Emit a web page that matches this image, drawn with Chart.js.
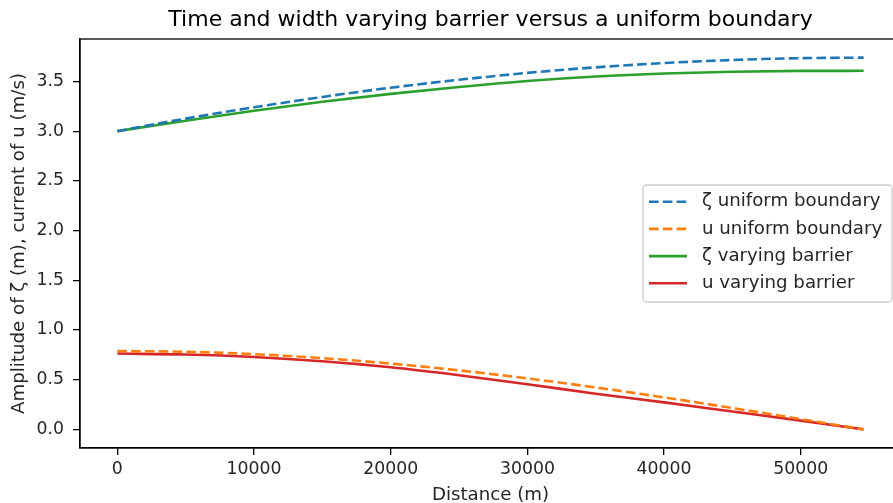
<!DOCTYPE html>
<html>
<head>
<meta charset="utf-8">
<script src="https://cdn.jsdelivr.net/npm/chart.js@4.4.1/dist/chart.umd.min.js"></script>
<style>
  html, body { margin: 0; padding: 0; background: #ffffff; overflow: hidden; }
  #wrap { width: 912px; height: 503px; }
</style>
</head>
<body>
<div id="wrap"><canvas id="c" width="912" height="503"></canvas></div>
<script>
// Distance along the channel (m)
const distance = [0, 5000, 10000, 15000, 20000, 25000, 30000, 35000, 40000, 45000, 50000, 54600];

// Amplitudes for the uniform boundary case
const zetaUniform = [3.000, 3.126, 3.240, 3.344, 3.437, 3.517, 3.586, 3.642, 3.685, 3.716, 3.734, 3.740];
const uUniform    = [0.789, 0.781, 0.757, 0.717, 0.662, 0.594, 0.513, 0.422, 0.322, 0.215, 0.104, 0.000];

// Amplitudes for the time and width varying barrier
const zetaBarrier = [3.000, 3.105, 3.205, 3.295, 3.375, 3.445, 3.505, 3.550, 3.580, 3.598, 3.606, 3.607];
const uBarrier    = [0.763, 0.753, 0.728, 0.685, 0.625, 0.545, 0.455, 0.358, 0.272, 0.180, 0.088, 0.000];

const seriesLabels = ['ζ uniform boundary', 'u uniform boundary', 'ζ varying barrier', 'u varying barrier'];

const xTicks = [0, 10000, 20000, 30000, 40000, 50000];
const yTicks = [0.0, 0.5, 1.0, 1.5, 2.0, 2.5, 3.0, 3.5];

const FONT = 'DejaVu Sans';
const pts = vals => distance.map((d, i) => ({ x: d, y: vals[i] }));

function series(label, vals, color, dashed) {
  return {
    label, data: pts(vals),
    borderColor: color, backgroundColor: color,
    borderWidth: 2.6,
    borderDash: dashed ? [9.6, 4.2] : [],
    pointRadius: 0,
    cubicInterpolationMode: 'monotone',
    fill: false
  };
}

// Frame around the plotting area (all four spines)
const frame = {
  id: 'frame',
  afterDatasetsDraw(chart) {
    const { ctx, chartArea: a } = chart;
    ctx.save();
    ctx.strokeStyle = '#000';
    ctx.lineWidth = 1.3;
    ctx.strokeRect(a.left, a.top, a.right - a.left, a.bottom - a.top);
    ctx.restore();
  }
};

// Boxed legend placed at the centre right of the axes
const boxLegend = {
  id: 'boxLegend',
  afterDraw(chart) {
    const { ctx, chartArea: a } = chart;
    const w = 249, h = 117;
    const right = a.right - 9;
    const left = right - w;
    const top = (a.top + a.bottom) / 2 - h / 2;
    ctx.save();
    ctx.beginPath();
    ctx.roundRect(left, top, w, h, 4);
    ctx.fillStyle = 'rgba(255,255,255,0.8)';
    ctx.fill();
    ctx.strokeStyle = '#cccccc';
    ctx.lineWidth = 1.3;
    ctx.stroke();
    ctx.font = '18.2px "' + FONT + '"';
    ctx.textBaseline = 'middle';
    ctx.textAlign = 'left';
    chart.data.datasets.forEach((ds, i) => {
      const y = top + 16.7 + i * 27.2;
      ctx.beginPath();
      ctx.setLineDash(ds.borderDash);
      ctx.strokeStyle = ds.borderColor;
      ctx.lineWidth = ds.borderWidth;
      ctx.moveTo(left + 6, y);
      ctx.lineTo(left + 44, y);
      ctx.stroke();
      ctx.setLineDash([]);
      ctx.fillStyle = '#262626';
      ctx.fillText(ds.label, left + 59, y);
    });
    ctx.restore();
  }
};

new Chart(document.getElementById('c'), {
  type: 'line',
  data: {
    datasets: [
      series(seriesLabels[0], zetaUniform, '#1f77b4', true),
      series(seriesLabels[1], uUniform, '#ff7f0e', true),
      series(seriesLabels[2], zetaBarrier, '#2ca02c', false),
      series(seriesLabels[3], uBarrier, '#d62728', false)
    ]
  },
  options: {
    responsive: false,
    animation: false,
    layout: { padding: { left: 0, right: 11, top: 0, bottom: 0 } },
    plugins: {
      legend: { display: false },
      tooltip: { enabled: false },
      title: {
        display: true,
        fullSize: false,
        text: 'Time and width varying barrier versus a uniform boundary',
        color: '#000',
        font: { family: FONT, size: 22, weight: 'normal' },
        padding: { top: 7.5, bottom: 5.1 }
      }
    },
    scales: {
      x: {
        type: 'linear',
        min: -2730, max: 57330,
        afterFit(s) { s.height = 55; },
        afterBuildTicks(s) { s.ticks = xTicks.map(v => ({ value: v })); },
        grid: { drawOnChartArea: false, drawTicks: true, tickLength: 7, color: '#000', lineWidth: 1.3 },
        border: { display: true, color: '#000', width: 1.3 },
        ticks: {
          color: '#262626', padding: 4, maxRotation: 0,
          font: { family: FONT, size: 17.3 },
          callback: v => String(v)
        },
        title: {
          display: true, text: 'Distance (m)', color: '#262626',
          font: { family: FONT, size: 18.2, lineHeight: 0.9 },
          padding: { top: 0, bottom: 0 }
        }
      },
      y: {
        type: 'linear',
        min: -0.187, max: 3.927,
        afterFit(s) { s.width = 80; },
        afterBuildTicks(s) { s.ticks = yTicks.map(v => ({ value: v })); },
        grid: { drawOnChartArea: false, drawTicks: true, tickLength: 7, color: '#000', lineWidth: 1.3 },
        border: { display: true, color: '#000', width: 1.3 },
        ticks: {
          color: '#262626', padding: 9,
          font: { family: FONT, size: 17.3 },
          callback: v => v.toFixed(1)
        },
        title: {
          display: true, text: 'Amplitude of ζ (m), current of u (m/s)', color: '#262626',
          font: { family: FONT, size: 18.2, lineHeight: 1.2 },
          padding: { top: 8.6, bottom: 0 }
        }
      }
    }
  },
  plugins: [frame, boxLegend]
});
</script>
</body>
</html>
